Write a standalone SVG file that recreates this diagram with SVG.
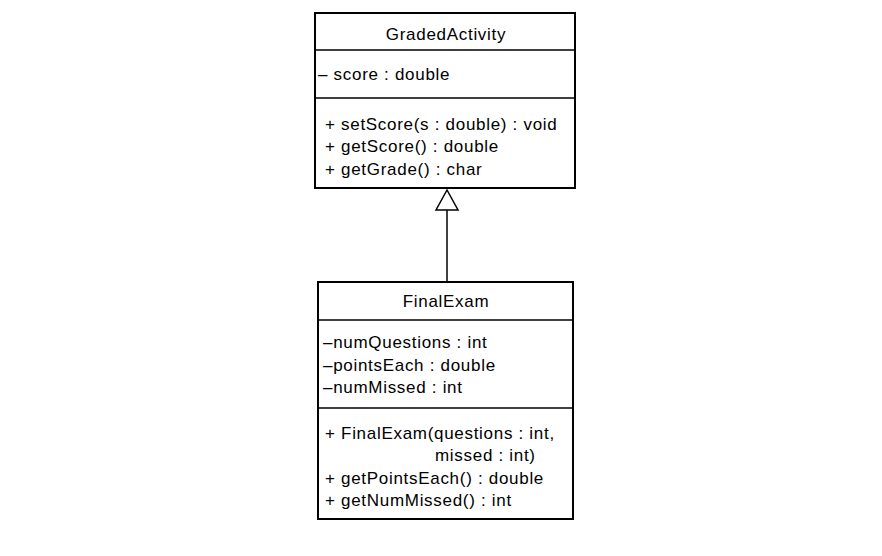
<svg xmlns="http://www.w3.org/2000/svg" width="882" height="556" viewBox="0 0 882 556">
<style>
.box{fill:#fff;stroke:#000;stroke-width:2}
.ln{stroke:#000;stroke-width:1.5;fill:none}
text{font-family:"Liberation Sans",Arial,sans-serif;font-size:17px;letter-spacing:0.7px;fill:#000}
.c{text-anchor:middle}
</style>
<rect width="882" height="556" fill="#fff"/>
<g id="connectors">
<line class="ln" x1="447" y1="210" x2="447" y2="282"/>
<polygon points="447,190 436,210 458,210" fill="#fff" stroke="#000" stroke-width="1.5"/>
</g>
<g id="GradedActivity">
<rect class="box" x="315" y="13" width="260" height="175"/>
<line class="ln" x1="315" y1="50" x2="575" y2="50"/>
<line class="ln" x1="315" y1="98" x2="575" y2="98"/>
<text class="c" x="446" y="40">GradedActivity</text>
<text x="318" y="80">– score : double</text>
<text x="325" y="130">+ setScore(s : double) : void</text>
<text x="325" y="152">+ getScore() : double</text>
<text x="325" y="175">+ getGrade() : char</text>
</g>
<g id="FinalExam">
<rect class="box" x="318" y="282" width="255" height="237"/>
<line class="ln" x1="318" y1="320" x2="573" y2="320"/>
<line class="ln" x1="318" y1="408" x2="573" y2="408"/>
<text class="c" x="446" y="307">FinalExam</text>
<text x="323" y="348">–numQuestions : int</text>
<text x="323" y="371">–pointsEach : double</text>
<text x="323" y="393">–numMissed : int</text>
<text x="325" y="439">+ FinalExam(questions : int,</text>
<text x="435" y="461">missed : int)</text>
<text x="325" y="484">+ getPointsEach() : double</text>
<text x="325" y="506">+ getNumMissed() : int</text>
</g>
</svg>
